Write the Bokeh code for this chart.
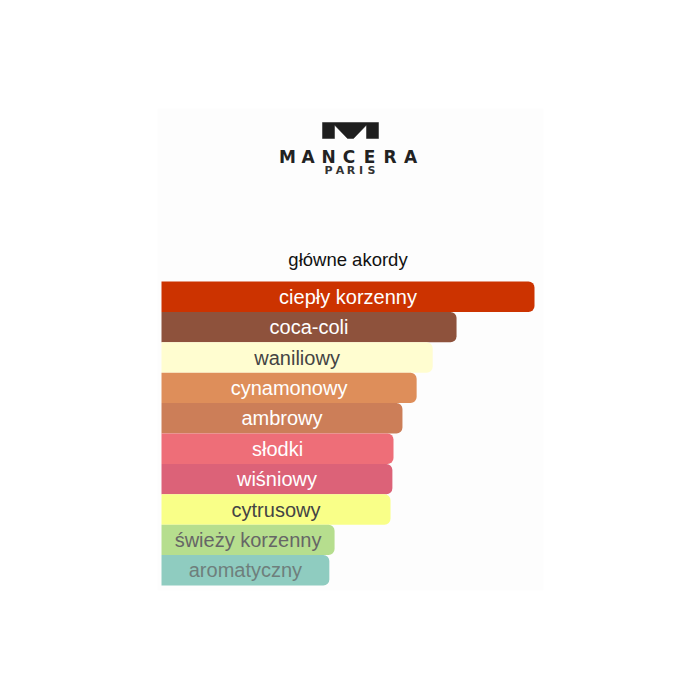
from bokeh.plotting import figure
from bokeh.models import Range1d, ColumnDataSource
from bokeh.core.properties import value
from bokeh.embed import file_html
from bokeh.resources import INLINE

# ---- data ----
accords = ["ciepły korzenny", "coca-coli", "waniliowy", "cynamonowy", "ambrowy",
           "słodki", "wiśniowy", "cytrusowy", "świeży korzenny", "aromatyczny"]
strength = [100, 79.1, 72.7, 68.4, 64.6, 62.2, 61.9, 61.4, 46.4, 45.0]
bar_colors = ["#CC3300", "#8E523C", "#FFFDD0", "#DE8E5A", "#CC7E58",
              "#EE6E78", "#DC6278", "#F9FF88", "#B6DE8E", "#8FCCC0"]
label_colors = ["#FFFFFF", "#FFFFFF", "#444444", "#FFFFFF", "#FFFFFF",
                "#FFFFFF", "#FFFFFF", "#444444", "#666666", "#6E7F7C"]
title_text = "główne akordy"
brand = "MANCERA"
brand_sub = "PARIS"

W = H = 684
PX_PER_UNIT = 3.73
BAR_LEFT = 161
ROW_H = 30.4
BAR_TOP = 281

p = figure(width=W, height=H, output_backend="svg", toolbar_location=None,
           x_axis_type=None, y_axis_type=None, min_border=0,
           x_range=Range1d(-BAR_LEFT / PX_PER_UNIT, (W - BAR_LEFT) / PX_PER_UNIT),
           y_range=Range1d((H - BAR_TOP) / ROW_H - 0.5, -BAR_TOP / ROW_H - 0.5))
p.outline_line_color = None
p.background_fill_color = "white"
p.border_fill_color = "white"
p.grid.visible = False
p.extra_x_ranges["px"] = Range1d(0, W)
p.extra_y_ranges["px"] = Range1d(H, 0)

# faint panel behind
p.quad(left=[157], right=[543], top=[108], bottom=[590], fill_color="#FDFDFD",
       line_color=None, x_range_name="px", y_range_name="px")

# logo icon
mx = [322, 378, 378, 366, 366, 353, 347, 334, 334, 322]
my = [122, 122, 138, 138, 124.5, 138, 138, 124.5, 138, 138]
p.patch(mx, my, fill_color="#1E1E1E", line_color="#1E1E1E", line_width=0.5,
        x_range_name="px", y_range_name="px")

letters_x = [287, 307.5, 328, 348.5, 369, 389.5, 410]
p.text(x=letters_x, y=[156.5] * 7, text=list(brand), text_align="center",
       text_baseline="middle", text_font=value("DejaVu Sans"),
       text_font_size=value("17px"), text_font_style="bold", text_color="#222222",
       x_range_name="px", y_range_name="px")
sub_x = [328, 339.5, 350.5, 360.5, 371]
p.text(x=sub_x, y=[169.5] * 5, text=list(brand_sub), text_align="center",
       text_baseline="middle", text_font=value("DejaVu Sans"),
       text_font_size=value("11px"), text_font_style="bold", text_color="#333333",
       x_range_name="px", y_range_name="px")

# title
p.text(x=[347.5], y=[259], text=[title_text], text_align="center",
       text_baseline="middle", text_font=value("Liberation Sans"),
       text_font_size=value("18.5px"), text_color="#111111",
       x_range_name="px", y_range_name="px")

# bars
idx = list(range(len(accords)))
src = ColumnDataSource(dict(y=idx, right=strength, color=bar_colors,
                            label=accords, tcolor=label_colors,
                            mid=[v / 2 for v in strength]))
p.hbar(y="y", left=0, right="right", height=1.0, fill_color="color",
       line_color=None, border_radius=(0, 6, 6, 0), source=src)
p.text(x="mid", y="y", text="label", text_color="tcolor", text_align="center",
       text_baseline="middle", text_font=value("Liberation Sans"),
       text_font_size=value("20px"), source=src)

open("out.html", "w").write(file_html(p, INLINE))
